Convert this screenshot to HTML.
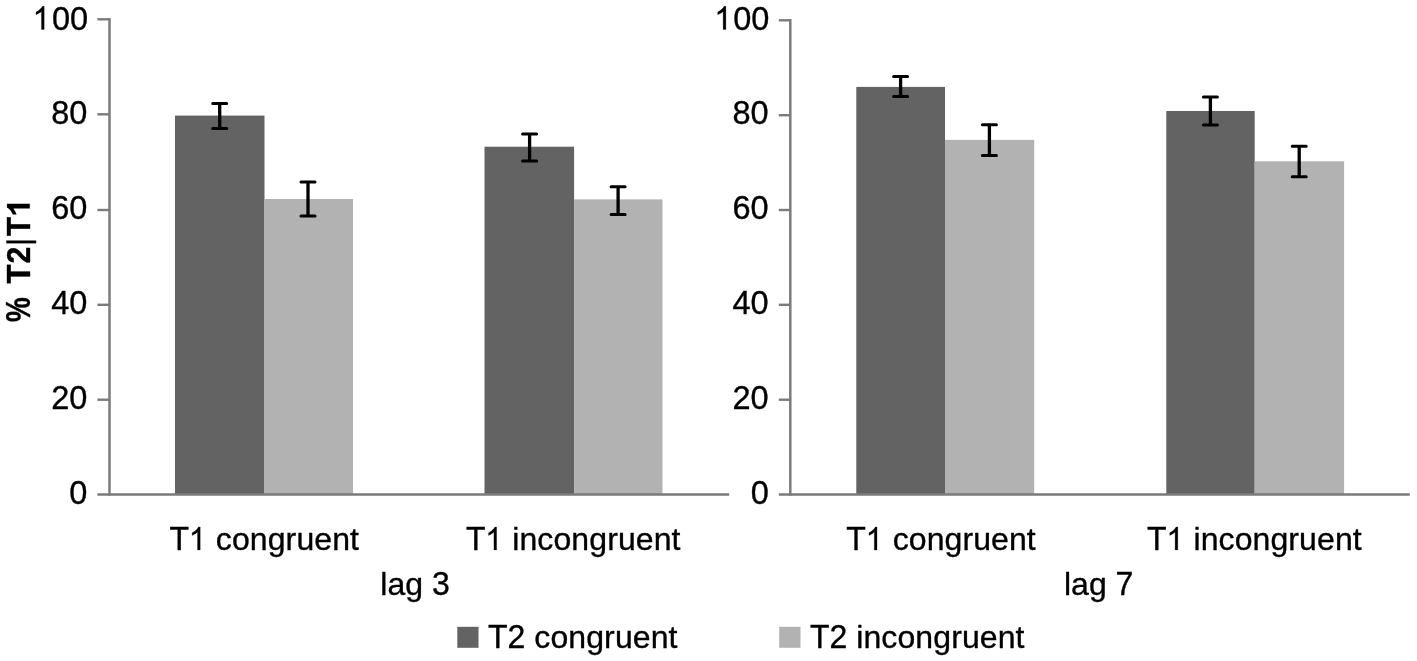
<!DOCTYPE html>
<html><head><meta charset="utf-8"><title>chart</title>
<style>
html,body{margin:0;padding:0;background:#fff;}
body{width:1417px;height:661px;overflow:hidden;}
svg{display:block;will-change:transform;}
text{font-family:"Liberation Sans",sans-serif;fill:#000;stroke:#000;stroke-width:0.35;stroke-linejoin:round;}
.g1{fill:#000;stroke:#000;stroke-linejoin:round;}
</style></head><body>
<svg width="1417" height="661" viewBox="0 0 1417 661">
<rect x="0" y="0" width="1417" height="661" fill="#ffffff"/>

<rect x="175.0" y="115.6" width="89.5" height="378.9" fill="#636363"/>
<rect x="264.5" y="199.0" width="88.5" height="295.5" fill="#b2b2b2"/>
<rect x="484.5" y="146.7" width="89.6" height="347.8" fill="#636363"/>
<rect x="574.1" y="199.4" width="88.4" height="295.1" fill="#b2b2b2"/>
<rect x="856.3" y="86.9" width="88.7" height="407.6" fill="#636363"/>
<rect x="945.0" y="139.9" width="89.2" height="354.6" fill="#b2b2b2"/>
<rect x="1166.3" y="111.0" width="88.4" height="383.5" fill="#636363"/>
<rect x="1254.7" y="161.3" width="89.4" height="333.2" fill="#b2b2b2"/>
<rect x="108.25" y="18.05" width="2.5" height="477.70" fill="#7b7b7b"/>
<rect x="97.4" y="493.25" width="631.8" height="2.5" fill="#7b7b7b"/>
<rect x="97.4" y="18.10" width="12.1" height="2.4" fill="#7b7b7b"/>
<rect x="97.4" y="113.10" width="12.1" height="2.4" fill="#7b7b7b"/>
<rect x="97.4" y="208.80" width="12.1" height="2.4" fill="#7b7b7b"/>
<rect x="97.4" y="303.60" width="12.1" height="2.4" fill="#7b7b7b"/>
<rect x="97.4" y="398.50" width="12.1" height="2.4" fill="#7b7b7b"/>
<g transform="translate(88.20,29.50) scale(1,1.03)"><text font-size="32.5" text-anchor="end" xml:space="preserve">00</text></g>
<path class="g1" transform="translate(32.67,29.50) scale(0.015076,-0.015790)" stroke-width="17.6" d="M763 0H583V1147Q518 1085 412.5 1023T223 930V1104Q374 1175 487 1276T647 1472H763Z"/>
<g transform="translate(87.30,123.90) scale(1,1.03)"><text font-size="32.5" text-anchor="end" xml:space="preserve">80</text></g>
<g transform="translate(87.30,218.80) scale(1,1.03)"><text font-size="32.5" text-anchor="end" xml:space="preserve">60</text></g>
<g transform="translate(87.30,314.00) scale(1,1.03)"><text font-size="32.5" text-anchor="end" xml:space="preserve">40</text></g>
<g transform="translate(87.30,409.40) scale(1,1.03)"><text font-size="32.5" text-anchor="end" xml:space="preserve">20</text></g>
<g transform="translate(87.30,504.20) scale(1,1.03)"><text font-size="32.5" text-anchor="end" xml:space="preserve">0</text></g>
<rect x="789.05" y="19.05" width="2.5" height="476.70" fill="#7b7b7b"/>
<rect x="778.8" y="493.25" width="631.0" height="2.5" fill="#7b7b7b"/>
<rect x="778.8" y="19.10" width="11.5" height="2.4" fill="#7b7b7b"/>
<rect x="778.8" y="114.00" width="11.5" height="2.4" fill="#7b7b7b"/>
<rect x="778.8" y="208.80" width="11.5" height="2.4" fill="#7b7b7b"/>
<rect x="778.8" y="303.60" width="11.5" height="2.4" fill="#7b7b7b"/>
<rect x="778.8" y="398.50" width="11.5" height="2.4" fill="#7b7b7b"/>
<g transform="translate(769.40,29.50) scale(1,1.03)"><text font-size="32.5" text-anchor="end" xml:space="preserve">00</text></g>
<path class="g1" transform="translate(714.37,29.50) scale(0.015076,-0.015790)" stroke-width="17.6" d="M763 0H583V1147Q518 1085 412.5 1023T223 930V1104Q374 1175 487 1276T647 1472H763Z"/>
<g transform="translate(768.60,124.00) scale(1,1.03)"><text font-size="32.5" text-anchor="end" xml:space="preserve">80</text></g>
<g transform="translate(768.60,218.80) scale(1,1.03)"><text font-size="32.5" text-anchor="end" xml:space="preserve">60</text></g>
<g transform="translate(768.60,314.40) scale(1,1.03)"><text font-size="32.5" text-anchor="end" xml:space="preserve">40</text></g>
<g transform="translate(768.60,409.40) scale(1,1.03)"><text font-size="32.5" text-anchor="end" xml:space="preserve">20</text></g>
<g transform="translate(768.90,504.00) scale(1,1.03)"><text font-size="32.5" text-anchor="end" xml:space="preserve">0</text></g>
<path d="M212.7 103.6H226.7M212.7 128.5H226.7" stroke="#000" stroke-width="3" stroke-linecap="round" fill="none"/><path d="M219.7 103.6V128.5" stroke="#000" stroke-width="3.3" fill="none"/>
<path d="M301.0 182.1H315.0M301.0 216.0H315.0" stroke="#000" stroke-width="3" stroke-linecap="round" fill="none"/><path d="M308.0 182.1V216.0" stroke="#000" stroke-width="3.3" fill="none"/>
<path d="M522.6 133.9H536.6M522.6 160.9H536.6" stroke="#000" stroke-width="3" stroke-linecap="round" fill="none"/><path d="M529.6 133.9V160.9" stroke="#000" stroke-width="3.3" fill="none"/>
<path d="M611.1 186.7H625.1M611.1 214.6H625.1" stroke="#000" stroke-width="3" stroke-linecap="round" fill="none"/><path d="M618.1 186.7V214.6" stroke="#000" stroke-width="3.3" fill="none"/>
<path d="M893.6 76.6H907.6M893.6 96.6H907.6" stroke="#000" stroke-width="3" stroke-linecap="round" fill="none"/><path d="M900.6 76.6V96.6" stroke="#000" stroke-width="3.3" fill="none"/>
<path d="M982.4 124.8H996.4M982.4 155.4H996.4" stroke="#000" stroke-width="3" stroke-linecap="round" fill="none"/><path d="M989.4 124.8V155.4" stroke="#000" stroke-width="3.3" fill="none"/>
<path d="M1203.4 97.0H1217.4M1203.4 124.9H1217.4" stroke="#000" stroke-width="3" stroke-linecap="round" fill="none"/><path d="M1210.4 97.0V124.9" stroke="#000" stroke-width="3.3" fill="none"/>
<path d="M1292.2 146.2H1306.2M1292.2 176.7H1306.2" stroke="#000" stroke-width="3" stroke-linecap="round" fill="none"/><path d="M1299.2 146.2V176.7" stroke="#000" stroke-width="3.3" fill="none"/>
<g transform="translate(169.50,549.90) scale(1,1.03)"><text font-size="32.0" xml:space="preserve">T</text></g>
<path class="g1" transform="translate(188.87,549.90) scale(0.014844,-0.015547)" stroke-width="17.9" d="M763 0H583V1147Q518 1085 412.5 1023T223 930V1104Q374 1175 487 1276T647 1472H763Z"/>
<g transform="translate(206.84,549.90) scale(1,1.0)"><text font-size="32.0" letter-spacing="0.1" xml:space="preserve">&#160;congruent</text></g>
<g transform="translate(465.90,549.90) scale(1,1.03)"><text font-size="32.0" xml:space="preserve">T</text></g>
<path class="g1" transform="translate(485.27,549.90) scale(0.014844,-0.015547)" stroke-width="17.9" d="M763 0H583V1147Q518 1085 412.5 1023T223 930V1104Q374 1175 487 1276T647 1472H763Z"/>
<g transform="translate(503.24,549.90) scale(1,1.0)"><text font-size="32.0" letter-spacing="0.1" xml:space="preserve">&#160;incongruent</text></g>
<g transform="translate(846.30,549.90) scale(1,1.03)"><text font-size="32.0" xml:space="preserve">T</text></g>
<path class="g1" transform="translate(865.67,549.90) scale(0.014844,-0.015547)" stroke-width="17.9" d="M763 0H583V1147Q518 1085 412.5 1023T223 930V1104Q374 1175 487 1276T647 1472H763Z"/>
<g transform="translate(883.64,549.90) scale(1,1.0)"><text font-size="32.0" letter-spacing="0.1" xml:space="preserve">&#160;congruent</text></g>
<g transform="translate(1147.10,549.90) scale(1,1.03)"><text font-size="32.0" xml:space="preserve">T</text></g>
<path class="g1" transform="translate(1166.47,549.90) scale(0.014844,-0.015547)" stroke-width="17.9" d="M763 0H583V1147Q518 1085 412.5 1023T223 930V1104Q374 1175 487 1276T647 1472H763Z"/>
<g transform="translate(1184.44,549.90) scale(1,1.0)"><text font-size="32.0" letter-spacing="0.1" xml:space="preserve">&#160;incongruent</text></g>
<g transform="translate(380.30,594.60) scale(1,1.0)"><text font-size="32.0" xml:space="preserve">lag&#160;</text></g>
<g transform="translate(431.89,594.60) scale(1,1.03)"><text font-size="32.0" xml:space="preserve">3</text></g>
<g transform="translate(1064.00,594.60) scale(1,1.0)"><text font-size="32.0" xml:space="preserve">lag&#160;</text></g>
<g transform="translate(1115.59,594.60) scale(1,1.03)"><text font-size="32.0" xml:space="preserve">7</text></g>
<rect x="457.3" y="626.8" width="21.2" height="21" fill="#636363"/>
<g transform="translate(488.00,647.90) scale(1,1.03)"><text font-size="32.0" xml:space="preserve">T</text></g>
<g transform="translate(507.55,647.90) scale(1,1.03)"><text font-size="32.0" xml:space="preserve">2</text></g>
<g transform="translate(525.34,647.90) scale(1,1.0)"><text font-size="32.0" letter-spacing="0.1" xml:space="preserve">&#160;congruent</text></g>
<rect x="779.2" y="626.8" width="21.3" height="21" fill="#b2b2b2"/>
<g transform="translate(809.90,647.90) scale(1,1.03)"><text font-size="32.0" xml:space="preserve">T</text></g>
<g transform="translate(829.45,647.90) scale(1,1.03)"><text font-size="32.0" xml:space="preserve">2</text></g>
<g transform="translate(847.24,647.90) scale(1,1.0)"><text font-size="32.0" letter-spacing="0.1" xml:space="preserve">&#160;incongruent</text></g>
<g transform="translate(30.3,321.89) rotate(-90) scale(0.8690,1.08)"><text font-size="32.0" font-weight="bold" stroke="none">%</text></g>
<g transform="translate(29.8,283.45) rotate(-90) scale(0.9711,1.04)"><text font-size="32.0" font-weight="bold" stroke="none">T</text></g>
<g transform="translate(29.8,263.54) rotate(-90) scale(0.9412,1.04)"><text font-size="32.0" font-weight="bold" stroke="none">2</text></g>
<rect x="6.3" y="240.5" width="29.9" height="2.9" fill="#000"/>
<g transform="translate(29.8,236.05) rotate(-90) scale(0.9818,1.04)"><text font-size="32.0" font-weight="bold" stroke="none">T</text></g>
<path fill="#000" transform="translate(29.8,217.34) rotate(-90) scale(0.016925,-0.015557)" d="M806 0H525V1059Q371 915 162 846V1101Q272 1137 401 1237.5T578 1472H806Z"/>
</svg></body></html>
